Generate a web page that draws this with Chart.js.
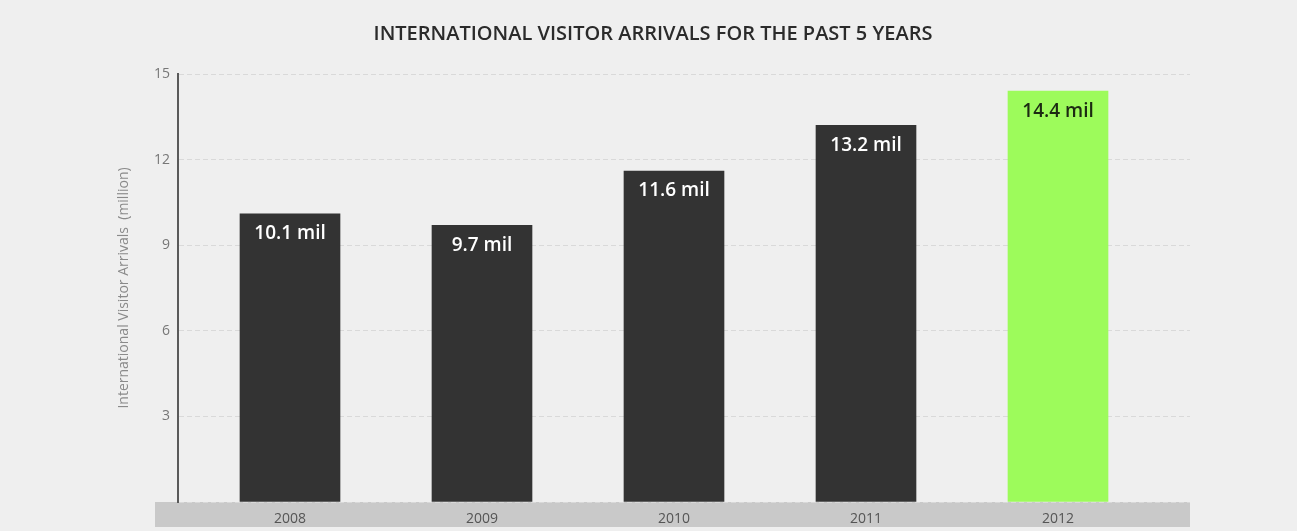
<!DOCTYPE html>
<html>
<head>
<meta charset="utf-8">
<script src="https://cdn.jsdelivr.net/npm/chart.js@4/dist/chart.umd.min.js"></script>
<style>
  html, body { margin: 0; padding: 0; background: #efefef; }
  #wrap { width: 1297px; height: 531px; }
</style>
</head>
<body>
<div id="wrap"><canvas id="arrivalsChart" width="1297" height="531"></canvas></div>
<script>
const years = ['2008', '2009', '2010', '2011', '2012']
const arrivals = [10.1, 9.7, 11.6, 13.2, 14.4]
const yTicks = [0, 3, 6, 9, 12, 15]

const barColors = ['#333333', '#333333', '#333333', '#333333', '#9dfb5b']
const labelColors = ['#ffffff', '#ffffff', '#ffffff', '#ffffff', '#1c2a12']

// grey strip behind the year labels
const yearBand = {
  id: 'yearBand',
  beforeDraw(chart) {
    const { ctx, chartArea } = chart
    ctx.save()
    ctx.fillStyle = '#c9c9c9'
    ctx.fillRect(155, chartArea.bottom, chartArea.right - 155, 25)
    ctx.restore()
  }
}

// "xx.x mil" inside the top of each bar
const valueLabels = {
  id: 'valueLabels',
  afterDatasetsDraw(chart) {
    const { ctx } = chart
    const meta = chart.getDatasetMeta(0)
    ctx.save()
    ctx.font = '600 19px "Open Sans"'
    ctx.textAlign = 'center'
    ctx.textBaseline = 'middle'
    meta.data.forEach((bar, i) => {
      ctx.fillStyle = labelColors[i]
      ctx.fillText(arrivals[i] + ' mil', bar.x, bar.y + 20)
    })
    ctx.restore()
  }
}

new Chart(document.getElementById('arrivalsChart').getContext('2d'), {
  type: 'bar',
  data: {
    datasets: [{
      data: arrivals.map((v, i) => ({ x: i, y: v })),
      backgroundColor: barColors,
      barThickness: 100
    }]
  },
  options: {
    responsive: false,
    animation: false,
    layout: { padding: { left: 116, right: 107, top: 0, bottom: 0 } },
    plugins: {
      legend: { display: false },
      tooltip: { enabled: false },
      title: {
        display: true,
        text: 'INTERNATIONAL VISITOR ARRIVALS FOR THE PAST 5 YEARS',
        color: '#2b2b2b',
        font: { family: 'Open Sans', size: 20, weight: '600' },
        padding: { top: 22, bottom: 28 }
      }
    },
    scales: {
      x: {
        type: 'linear',
        offset: false,
        min: -0.5833,
        max: 4.6875,
        afterBuildTicks: scale => {
          scale.ticks = years.map((_, i) => ({ value: i }))
        },
        afterFit: scale => { scale.height = 29 },
        ticks: {
          callback: v => years[v],
          color: '#555',
          padding: 1,
          maxRotation: 0,
          font: { family: 'Open Sans', size: 14 }
        },
        grid: { display: false },
        border: { display: false }
      },
      y: {
        min: 0,
        max: 15,
        afterBuildTicks: scale => {
          scale.ticks = yTicks.map(v => ({ value: v }))
        },
        afterFit: scale => { scale.width = 62 },
        ticks: {
          callback: v => (v === 0 ? '' : v),
          color: '#777',
          padding: 8,
          font: { family: 'Open Sans', size: 14 }
        },
        grid: { color: '#d9d9d9', lineWidth: 1, drawTicks: false },
        border: { color: '#5a5a5a', width: 2, dash: [5, 3] },
        title: {
          display: true,
          text: 'International Visitor Arrivals  (million)',
          color: '#8a8a8a',
          padding: 0,
          font: { family: 'Open Sans', size: 14 }
        }
      }
    }
  },
  plugins: [yearBand, valueLabels]
})
</script>
</body>
</html>
